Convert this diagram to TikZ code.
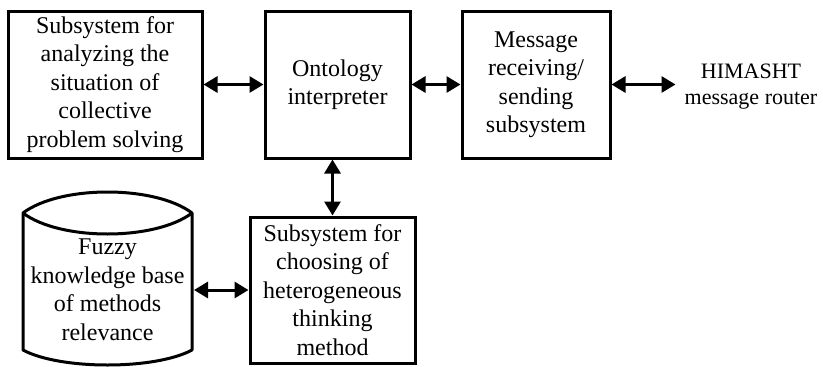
\documentclass[tikz,border=0pt]{standalone}
\usepackage{fontspec}
\setmainfont{Liberation Serif}
\usetikzlibrary{arrows.meta}
\tikzset{
  blk/.style={draw, line width=3pt, inner sep=0pt, align=center, font=\fontsize{24}{28.5}\selectfont},
  txt/.style={inner sep=0pt, align=center, font=\fontsize{22}{26}\selectfont},
  link/.style={line width=3pt, {Triangle[length=14pt,width=16pt]}-{Triangle[length=14pt,width=16pt]}}
}
\begin{document}
\begin{tikzpicture}[x=1pt,y=-1pt]
\useasboundingbox (0,0) rectangle (823,367);
\node[blk, minimum width=194pt, minimum height=147pt] (anal) at (105,84.5)
  {Subsystem for\\analyzing the\\situation of\\collective\\problem solving};
\node[blk, minimum width=145pt, minimum height=147pt] (onto) at (337.5,84.5)
  {Ontology\\interpreter};
\node[blk, minimum width=148pt, minimum height=147pt] (msg) at (536,84.5)
  {Message\\receiving/\\sending\\subsystem};
\node[txt] (router) at (751,87) {HIMASHT\\message router};
\node[blk, minimum width=165pt, minimum height=146pt] (choose) at (332.5,290)
  {Subsystem for\\choosing of\\heterogeneous\\thinking\\method};
% cylinder
\draw[line width=3pt, line join=round]
  (23,213) .. controls (60,185) and (155,185) .. (192,213)
  -- (192,350) .. controls (155,370) and (60,370) .. (23,350) -- cycle;
\draw[line width=3pt] (23,213) .. controls (60,241) and (155,241) .. (192,213);
\node[blk, draw=none, minimum width=170pt, minimum height=150pt] (kb) at (107.5,290)
  {Fuzzy\\knowledge base\\of methods\\relevance};
% connectors
\draw[link] (anal.east) -- (onto.west);
\draw[link] (onto.east) -- (msg.west);
\draw[link] (msg.east) -- ([xshift=-9pt]msg.east -| router.west);
\draw[link] (choose.north |- onto.south) -- (choose.north);
\draw[link] (kb.east) -- (choose.west);
\end{tikzpicture}
\end{document}
